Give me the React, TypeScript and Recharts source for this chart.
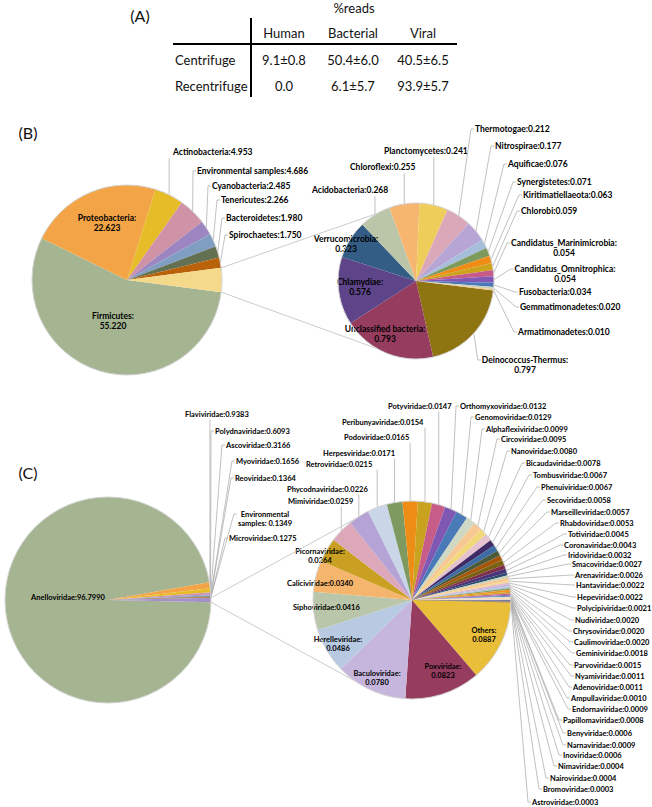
import React from 'react';
import { PieChart, Pie, Cell } from 'recharts';

// (A) read share table
const tableCols = ['Human', 'Bacterial', 'Viral'];
const centrifugeReads = ['9.1±0.8', '50.4±6.0', '40.5±6.5'];
const recentrifugeReads = ['0.0', '6.1±5.7', '93.9±5.7'];

// (B) bacteria, main pie
const bacMainNames = ['Firmicutes', 'Proteobacteria', 'Actinobacteria', 'Environmental samples', 'Cyanobacteria', 'Tenericutes', 'Bacteroidetes', 'Spirochaetes'];
const bacMainValues = [55.22, 22.623, 4.953, 4.686, 2.485, 2.266, 1.98, 1.75];

// (B) bacteria, secondary pie
const bacMinorNames = ['Deinococcus-Thermus', 'Unclassified bacteria', 'Chlamydiae', 'Verrucomicrobia', 'Acidobacteria', 'Chloroflexi', 'Planctomycetes', 'Thermotogae', 'Nitrospirae', 'Aquificae', 'Synergistetes', 'Kiritimatiellaeota', 'Chlorobi', 'Candidatus_Marinimicrobia', 'Candidatus_Omnitrophica', 'Fusobacteria', 'Gemmatimonadetes', 'Armatimonadetes'];
const bacMinorValues = [0.797, 0.793, 0.576, 0.323, 0.268, 0.255, 0.241, 0.212, 0.177, 0.076, 0.071, 0.063, 0.059, 0.054, 0.054, 0.034, 0.02, 0.01];

// (C) viruses, main pie
const virMainNames = ['Anelloviridae', 'Flaviviridae', 'Polydnaviridae', 'Ascoviridae', 'Myoviridae', 'Reoviridae', 'Environmental samples', 'Microviridae'];
const virMainValues = [96.799, 0.9383, 0.6093, 0.3166, 0.1656, 0.1364, 0.1349, 0.1275];

// (C) viruses, secondary pie
const virMinorNames = ['Others', 'Poxviridae', 'Baculoviridae', 'Herelleviridae', 'Siphoviridae', 'Caliciviridae', 'Picornaviridae', 'Mimiviridae', 'Phycodnaviridae', 'Retroviridae', 'Herpesviridae', 'Podoviridae', 'Peribunyaviridae', 'Potyviridae', 'Orthomyxoviridae', 'Genomoviridae', 'Alphaflexiviridae', 'Circoviridae', 'Nanoviridae', 'Bicaudaviridae', 'Tombusviridae', 'Phenuiviridae', 'Secoviridae', 'Marseilleviridae', 'Rhabdoviridae', 'Totiviridae', 'Coronaviridae', 'Iridoviridae', 'Smacoviridae', 'Arenaviridae', 'Hantaviridae', 'Hepeviridae', 'Polycipiviridae', 'Nudiviridae', 'Chrysoviridae', 'Caulimoviridae', 'Geminiviridae', 'Parvoviridae', 'Nyamiviridae', 'Adenoviridae', 'Ampullaviridae', 'Endornaviridae', 'Papillomaviridae', 'Benyviridae', 'Narnaviridae', 'Inoviridae', 'Nimaviridae', 'Nairoviridae', 'Bromoviridae', 'Astroviridae'];
const virMinorValues = [0.0887, 0.0823, 0.078, 0.0486, 0.0416, 0.034, 0.0264, 0.0259, 0.0226, 0.0215, 0.0171, 0.0165, 0.0154, 0.0147, 0.0132, 0.0129, 0.0099, 0.0095, 0.008, 0.0078, 0.0067, 0.0067, 0.0058, 0.0057, 0.0053, 0.0045, 0.0043, 0.0032, 0.0027, 0.0026, 0.0022, 0.0022, 0.0021, 0.002, 0.002, 0.002, 0.0018, 0.0015, 0.0011, 0.0011, 0.001, 0.0009, 0.0008, 0.0006, 0.0009, 0.0006, 0.0004, 0.0004, 0.0003, 0.0003];

// colours
const bacMainColors = ['#A5B592', '#F3A447', '#E7BC29', '#D092A7', '#9C85C0', '#809EC2', '#637052', '#B9620A', '#F4D98A'];
const bacMinorColors = ['#8F7412', '#963D5F', '#5E4589', '#345D86', '#BBC6A8', '#F6B66F', '#EECD5B', '#DBA8BA', '#B7A5D6', '#A7BEDB', '#7D9A5C', '#EE8C16', '#CDA21D', '#C65A88', '#8058B4', '#4B78B8', '#C9D4B8', '#F5C68D'];
const virMainColors = ['#A5B592', '#F3A447', '#E7BC29', '#D092A7', '#9C85C0', '#809EC2', '#637052', '#B9620A', '#A591C9'];
const virMinorColors = ['#E9BF3A', '#963D5F', '#C6B6DD', '#B7CAE2', '#BAC6A9', '#F6B56D', '#C9A022', '#DCA8BA', '#B6A3D5', '#C9D6E8', '#7E9A60', '#EE8D15', '#C9A31F', '#C65C87', '#7F58B3', '#4A7AB7', '#CFD8C2', '#F8C894', '#F1D87A', '#E6C1CF', '#3F2C67', '#3D6CA6', '#4B5B3A', '#A5560B', '#7B6213', '#7D2E4D', '#4B3479', '#2C4B6F', '#C9D3BB', '#F8C38A', '#F2D98D', '#E3B8C8', '#C0B0DA', '#B3C6DF', '#86A36A', '#F09020', '#CDA327', '#C5628A', '#8A64B9', '#5683BD', '#D7DECC', '#F9D0A4', '#F4DC8C', '#EBCBD6', '#5A4385', '#4877AD', '#56673F', '#B7600A', '#8B7016', '#8C3A5A'];

// geometry
const B_MAIN = { cx: 127, cy: 280, r: 95 };
const B_MINOR = { cx: 416, cy: 281, r: 78, start: -7, join: 120 };
const C_MAIN = { cx: 108, cy: 600, r: 103 };
const C_MINOR = { cx: 412, cy: 600, r: 99, start: -1.5, join: 125 };

// label placement: [x, y, mode]  s=text+leader, n=text only, m=two lines centred, M=two lines + leader, c=centred one line
type Mode = 's' | 'n' | 'm' | 'M' | 'c';
type Spec = [number, number, Mode?];

const bMainLabels: Record<string, Spec> = {
  Firmicutes: [113, 316, 'm'],
  Proteobacteria: [107, 218, 'm'],
  Actinobacteria: [173, 152],
  'Environmental samples': [197, 171],
  Cyanobacteria: [212, 186],
  Tenericutes: [221, 200],
  Bacteroidetes: [226, 218],
  Spirochaetes: [229, 235],
};

const bMinorLabels: Record<string, Spec> = {
  'Deinococcus-Thermus': [525, 360, 'M'],
  'Unclassified bacteria': [385, 329, 'm'],
  Chlamydiae: [360, 282, 'm'],
  Verrucomicrobia: [346, 239, 'm'],
  Acidobacteria: [312, 190],
  Chloroflexi: [350, 167],
  Planctomycetes: [384, 151],
  Thermotogae: [475, 129],
  Nitrospirae: [495, 146],
  Aquificae: [508, 164],
  Synergistetes: [517, 182],
  Kiritimatiellaeota: [523, 195],
  Chlorobi: [521, 211],
  Candidatus_Marinimicrobia: [564, 243, 'M'],
  Candidatus_Omnitrophica: [565, 269, 'M'],
  Fusobacteria: [519, 292],
  Gemmatimonadetes: [520, 307],
  Armatimonadetes: [518, 332],
};

const cMainLabels: Record<string, Spec> = {
  Anelloviridae: [68, 597, 'c'],
  Flaviviridae: [185, 414],
  Polydnaviridae: [215, 431],
  Ascoviridae: [226, 445],
  Myoviridae: [236, 461],
  Reoviridae: [235, 478],
  'Environmental samples': [265, 514, 'M'],
  Microviridae: [229, 538],
};

const cMinorLabels: Record<string, Spec> = {
  Others: [484, 630, 'm'],
  Poxviridae: [443, 666, 'm'],
  Baculoviridae: [377, 673, 'm'],
  Herelleviridae: [338, 639, 'm'],
  Siphoviridae: [293, 607, 'n'],
  Caliciviridae: [287, 583, 'n'],
  Picornaviridae: [320, 551, 'm'],
  Mimiviridae: [288, 501],
  Phycodnaviridae: [287, 489],
  Retroviridae: [306, 464],
  Herpesviridae: [323, 453],
  Podoviridae: [344, 437],
  Peribunyaviridae: [342, 422],
  Potyviridae: [388, 406],
  Orthomyxoviridae: [460, 406],
  Genomoviridae: [475, 417],
  Alphaflexiviridae: [486, 429],
  Circoviridae: [501, 439],
  Nanoviridae: [511, 451],
  Bicaudaviridae: [526, 463],
  Tombusviridae: [533, 475],
  Phenuiviridae: [541, 487],
  Secoviridae: [547, 500],
  Marseilleviridae: [551, 512],
  Rhabdoviridae: [560, 523],
  Totiviridae: [568, 534],
  Coronaviridae: [564, 545],
  Iridoviridae: [568, 555],
  Smacoviridae: [572, 564],
  Arenaviridae: [575, 575],
  Hantaviridae: [576, 585],
  Hepeviridae: [577, 597],
  Polycipiviridae: [577, 608],
  Nudiviridae: [575, 620],
  Chrysoviridae: [573, 631],
  Caulimoviridae: [574, 642],
  Geminiviridae: [576, 653],
  Parvoviridae: [574, 665],
  Nyamiviridae: [575, 676],
  Adenoviridae: [573, 687],
  Ampullaviridae: [571, 698],
  Endornaviridae: [572, 709],
  Papillomaviridae: [563, 720],
  Benyviridae: [567, 733],
  Narnaviridae: [567, 745],
  Inoviridae: [563, 755],
  Nimaviridae: [558, 766],
  Nairoviridae: [550, 778],
  Bromoviridae: [543, 789],
  Astroviridae: [532, 802],
};

const RAD = Math.PI / 180;
const FONT = 'Lato, "Open Sans", sans-serif';
const LEADER = '#a6a6a6';

let measureCtx: CanvasRenderingContext2D | null = null;
function textWidth(s: string, size: number) {
  if (!measureCtx) measureCtx = document.createElement('canvas').getContext('2d');
  if (!measureCtx) return s.length * size * 0.5;
  measureCtx.font = `bold ${size}px Lato`;
  return measureCtx.measureText(s).width;
}

function labelLines(name: string, value: number, digits: number, mode: Mode) {
  const v = value.toFixed(digits);
  if (name === 'Environmental samples' && mode === 'M') return ['Environmental', `samples: ${v}`];
  if (mode === 'm' || mode === 'M') return [`${name}:`, v];
  return [`${name}:${v}`];
}

function makeLabel(names: string[], values: number[], specs: Record<string, Spec>, size: number, digits: number) {
  return (p: any) => {
    const name = names[p.index];
    const spec = specs[name];
    if (!spec) return null;
    const [x, y, mode = 's'] = spec;
    const lines = labelLines(name, values[p.index], digits, mode);
    const lh = size * 1.22;
    const anchor = mode === 's' || mode === 'n' ? 'start' : 'middle';
    const w = Math.max(...lines.map((l) => textWidth(l, size)));
    const left = anchor === 'start' ? x : x - w / 2;
    const right = left + w;
    const top = y - lh / 2;
    const bottom = y + lh * (lines.length - 0.5);
    let d = '';
    if (mode === 's' || mode === 'M') {
      const px = p.cx + p.outerRadius * Math.cos(-p.midAngle * RAD);
      const py = p.cy + p.outerRadius * Math.sin(-p.midAngle * RAD);
      const over = px >= left - 4 && px <= right + 6;
      if (over && py > bottom) d = `M${px},${py}V${bottom + 1}`;
      else if (over && py < top) d = `M${px},${py}V${top - 1}`;
      else if (px < left) d = `M${px},${py}L${left - 4},${y}H${left - 1}`;
      else d = `M${px},${py}L${right + 4},${y}H${right + 1}`;
    }
    return (
      <g key={`lbl-${name}`}>
        {d && <path d={d} stroke={LEADER} strokeWidth={0.7} fill="none" />}
        {lines.map((l, i) => (
          <text key={i} x={x} y={y + i * lh} textAnchor={anchor} dominantBaseline="central" fontSize={size} fontWeight="bold" fontFamily={FONT} fill="#000">
            {l}
          </text>
        ))}
      </g>
    );
  };
}

const sum = (a: number[]) => a.reduce((s, v) => s + v, 0);

const bacOther = sum(bacMinorValues);
const bMainNames = [...bacMainNames, 'Other'];
const bMainVals = [...bacMainValues, bacOther];
const bMainData = bMainNames.map((name, i) => ({ name, value: bMainVals[i] }));
const bMainHalf = (bacOther / sum(bMainVals)) * 180;
const bMinorData = bacMinorNames.map((name, i) => ({ name, value: bacMinorValues[i] }));

const virOther = sum(virMinorValues);
const cMainNames = [...virMainNames, 'Other'];
const cMainVals = [...virMainValues, virOther];
const cMainData = cMainNames.map((name, i) => ({ name, value: cMainVals[i] }));
const cMainHalf = (virOther / sum(cMainVals)) * 180;
const cMinorData = virMinorNames.map((name, i) => ({ name, value: virMinorValues[i] }));

const pt = (c: { cx: number; cy: number }, r: number, deg: number) => [c.cx + r * Math.cos(-deg * RAD), c.cy + r * Math.sin(-deg * RAD)];

function Connectors({ main, minor, half }: { main: typeof B_MAIN; minor: typeof B_MINOR; half: number }) {
  const a = pt(main, main.r, half);
  const b = pt(minor, minor.r, minor.join);
  const c = pt(main, main.r, -half);
  const d = pt(minor, minor.r, -minor.join);
  return (
    <g stroke="#bfbfbf" strokeWidth={0.8}>
      <line x1={a[0]} y1={a[1]} x2={b[0]} y2={b[1]} />
      <line x1={c[0]} y1={c[1]} x2={d[0]} y2={d[1]} />
    </g>
  );
}

function ReadsTable() {
  const colX = [284, 353, 423];
  const t = { fontFamily: FONT, fontSize: 13, fill: '#111', dominantBaseline: 'central' as const };
  return (
    <g>
      <text x={140} y={15} {...t} fontSize={16} textAnchor="middle">(A)</text>
      <text x={354} y={8} {...t} textAnchor="middle">%reads</text>
      {tableCols.map((c, i) => (
        <text key={c} x={colX[i]} y={33} {...t} textAnchor="middle">{c}</text>
      ))}
      <text x={175} y={60} {...t}>Centrifuge</text>
      <text x={175} y={86} {...t}>Recentrifuge</text>
      {centrifugeReads.map((v, i) => (
        <text key={`c${i}`} x={colX[i]} y={60} {...t} textAnchor="middle">{v}</text>
      ))}
      {recentrifugeReads.map((v, i) => (
        <text key={`r${i}`} x={colX[i]} y={86} {...t} textAnchor="middle">{v}</text>
      ))}
      <line x1={173} y1={44} x2={457} y2={44} stroke="#000" strokeWidth={2} />
      <line x1={251} y1={18} x2={251} y2={97} stroke="#000" strokeWidth={2} />
    </g>
  );
}

export default function App() {
  return (
    <div style={{ position: 'absolute', left: 0, top: 0, width: 652, height: 807, background: '#fff' }}>
      <PieChart width={652} height={807} margin={{ top: 0, right: 0, bottom: 0, left: 0 }}>
        <Pie data={bMainData} dataKey="value" nameKey="name" cx={B_MAIN.cx} cy={B_MAIN.cy} outerRadius={B_MAIN.r}
          startAngle={-bMainHalf} endAngle={-bMainHalf - 360} stroke="none" isAnimationActive={false}
          labelLine={false} label={makeLabel(bMainNames, bMainVals, bMainLabels, 8.5, 3)}>
          {bMainData.map((d, i) => <Cell key={d.name} fill={bacMainColors[i]} />)}
        </Pie>
        <Pie data={bMinorData} dataKey="value" nameKey="name" cx={B_MINOR.cx} cy={B_MINOR.cy} outerRadius={B_MINOR.r}
          startAngle={B_MINOR.start} endAngle={B_MINOR.start - 360} stroke="none" isAnimationActive={false}
          labelLine={false} label={makeLabel(bacMinorNames, bacMinorValues, bMinorLabels, 8.5, 3)}>
          {bMinorData.map((d, i) => <Cell key={d.name} fill={bacMinorColors[i]} />)}
        </Pie>
        <Pie data={cMainData} dataKey="value" nameKey="name" cx={C_MAIN.cx} cy={C_MAIN.cy} outerRadius={C_MAIN.r}
          startAngle={-cMainHalf} endAngle={-cMainHalf - 360} stroke="none" isAnimationActive={false}
          labelLine={false} label={makeLabel(cMainNames, cMainVals, cMainLabels, 7.5, 4)}>
          {cMainData.map((d, i) => <Cell key={d.name} fill={virMainColors[i]} />)}
        </Pie>
        <Pie data={cMinorData} dataKey="value" nameKey="name" cx={C_MINOR.cx} cy={C_MINOR.cy} outerRadius={C_MINOR.r}
          startAngle={C_MINOR.start} endAngle={C_MINOR.start - 360} stroke="none" isAnimationActive={false}
          labelLine={false} label={makeLabel(virMinorNames, virMinorValues, cMinorLabels, 7.5, 4)}>
          {cMinorData.map((d, i) => <Cell key={d.name} fill={virMinorColors[i]} />)}
        </Pie>
      </PieChart>
      <svg width={652} height={807} style={{ position: 'absolute', left: 0, top: 0, pointerEvents: 'none' }}>
        <ReadsTable />
        <text x={28} y={132} fontFamily={FONT} fontSize={16} textAnchor="middle" dominantBaseline="central" fill="#111">(B)</text>
        <text x={28} y={472} fontFamily={FONT} fontSize={16} textAnchor="middle" dominantBaseline="central" fill="#111">(C)</text>
        <Connectors main={B_MAIN} minor={B_MINOR} half={bMainHalf} />
        <Connectors main={C_MAIN} minor={C_MINOR} half={cMainHalf} />
        {[B_MAIN, B_MINOR, C_MAIN, C_MINOR].map((c, i) => (
          <circle key={i} cx={c.cx} cy={c.cy} r={c.r} fill="none" stroke="#d4d4d4" strokeWidth={1} />
        ))}
      </svg>
    </div>
  );
}
